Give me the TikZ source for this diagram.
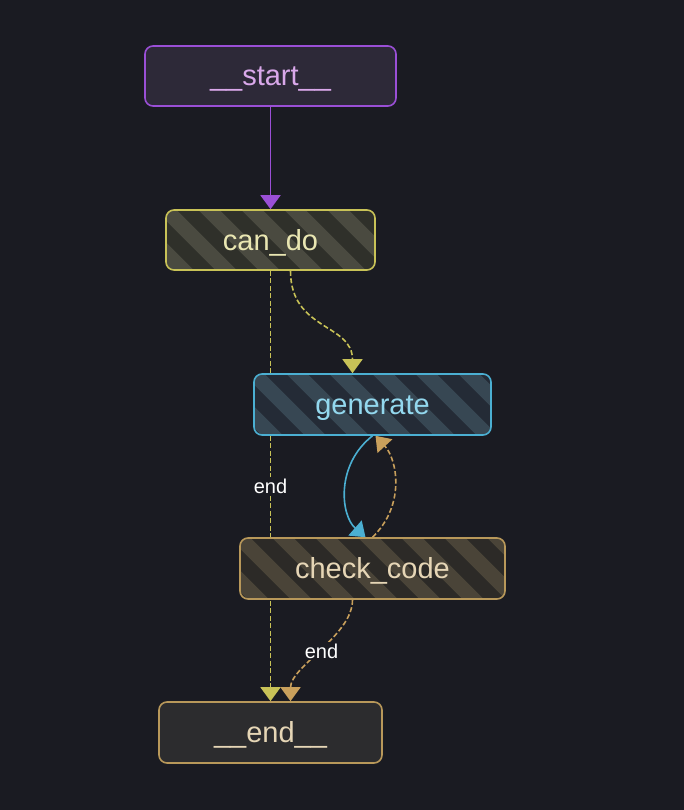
\documentclass[tikz,border=0pt]{standalone}
\usepackage{fontspec}
\setmainfont{Liberation Sans}
\usetikzlibrary{arrows.meta}
\definecolor{bg}{HTML}{1A1B22}
\definecolor{purp}{HTML}{9A4FD6}
\definecolor{purpfill}{HTML}{2D2938}
\definecolor{purptext}{HTML}{D9A8EA}
\definecolor{yel}{HTML}{C8C257}
\definecolor{yeltext}{HTML}{E9E6B2}
\definecolor{yeldark}{HTML}{2F302A}
\definecolor{yellight}{HTML}{4A4A40}
\definecolor{blu}{HTML}{4BAFD2}
\definecolor{blutext}{HTML}{93D8EE}
\definecolor{bludark}{HTML}{242B36}
\definecolor{blulight}{HTML}{374753}
\definecolor{tan}{HTML}{B8985A}
\definecolor{tanarrow}{HTML}{C9A05C}
\definecolor{tantext}{HTML}{E6D6B6}
\definecolor{tandark}{HTML}{2C2A27}
\definecolor{tanlight}{HTML}{4A4438}
\definecolor{endfill}{HTML}{2C2C2E}
\pgfdeclarelayer{bglayer}
\pgfdeclarelayer{edgelayer}
\pgfsetlayers{bglayer,edgelayer,main}
\tikzset{
  box/.style={rounded corners=8pt, line width=1.6pt, inner sep=0pt,
    text height=20pt, text depth=0pt,
    font=\fontsize{29}{32}\selectfont},
  stripes/.style={path picture={
    \foreach \k in {-3,...,8}
      \draw[line width=15pt,#1] ([xshift=\k*43pt-10pt,yshift=10pt]path picture bounding box.north west) -- ++(90pt,-90pt);
  }},
  edgelabel/.style={fill=bg, text=white, inner sep=2pt, font=\fontsize{20}{22}\selectfont},
  arrowtip/.style={-{Triangle[width=20pt,length=14pt]}},
  dashy/.style={dash pattern=on 5pt off 2.5pt},
}
\begin{document}
\begin{tikzpicture}[x=1pt,y=-1pt]
\begin{pgfonlayer}{bglayer}
\fill[bg] (0,0) rectangle (684,810);
\end{pgfonlayer}
\useasboundingbox (0,0) rectangle (684,810);

\node[box, draw=purp, fill=purpfill, text=purptext, minimum width=251pt, minimum height=60pt] (start) at (270.5,76) {\_\_start\_\_};
\node[box, draw=yel, fill=yeldark, stripes=yellight, text=yeltext, minimum width=209pt, minimum height=60pt] (cando) at (270.5,240) {can\_do};
\node[box, draw=blu, fill=bludark, stripes=blulight, text=blutext, minimum width=237pt, minimum height=61pt] (generate) at (372.5,404.5) {generate};
\node[box, draw=tan, fill=tandark, stripes=tanlight, text=tantext, minimum width=265pt, minimum height=61pt] (check) at (372.5,568.5) {check\_code};
\node[box, draw=tan, fill=endfill, text=tantext, minimum width=223pt, minimum height=61pt] (end) at (270.5,732.5) {\_\_end\_\_};

\begin{pgfonlayer}{edgelayer}
% start -> can_do
\draw[arrowtip, purp, line width=1.8pt] (start.south) -- (cando.north);
% can_do -> end
\draw[arrowtip, yel, line width=1.8pt, dashy] (cando.south) -- node[edgelabel] (lbl1) {end} (end.north);
% can_do -> generate
\draw[arrowtip, yel, line width=1.6pt, dashy] ([xshift=20pt]cando.south) .. controls +(0,60) and +(0,-50) .. ([xshift=-20pt]generate.north);
% generate -> check_code
\draw[arrowtip, blu, line width=1.6pt] (generate.south) .. controls +(-37,29) and +(-25,-22) .. ([xshift=-7pt]check.north);
% check_code -> generate
\draw[arrowtip, tanarrow, line width=1.6pt, dashy] (check.north) .. controls +(33,-32) and +(22,24) .. ([xshift=3pt]generate.south);
% check_code -> end
\draw[arrowtip, tanarrow, line width=1.6pt, dashy] ([xshift=-20pt]check.south) .. controls +(0,36) and +(0,-35) .. node[edgelabel] (lbl2) {end} ([xshift=20pt]end.north);
\end{pgfonlayer}
\end{tikzpicture}
\end{document}
